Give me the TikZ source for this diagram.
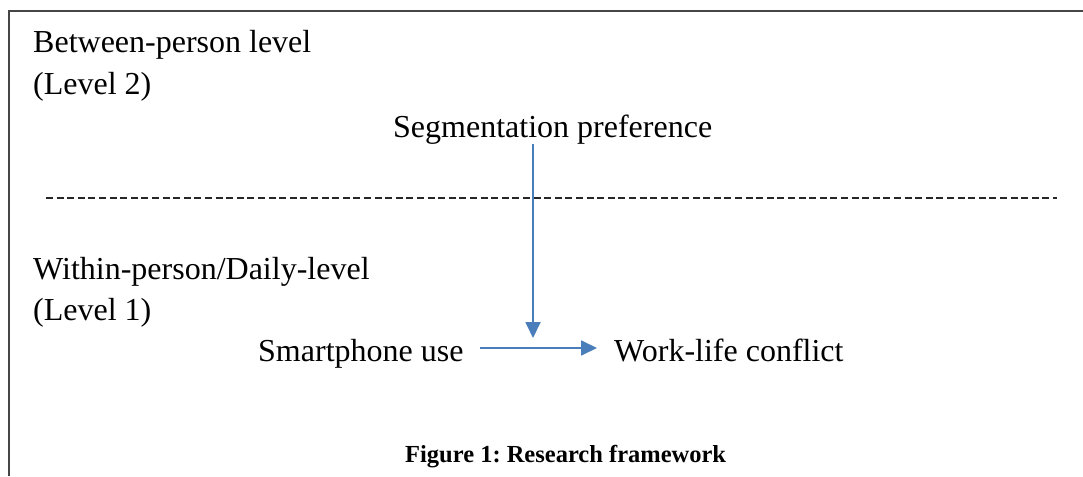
\documentclass[tikz,border=0pt]{standalone}
\usepackage{fontspec}
\setmainfont{Liberation Serif}
\usetikzlibrary{arrows.meta,positioning,calc}
\definecolor{linkblue}{RGB}{74,126,187}
\definecolor{rule}{RGB}{70,70,70}
\tikzset{
  lbl/.style={inner sep=0pt, anchor=base west, font=\fontsize{32}{38}\selectfont},
  figcap/.style={inner sep=0pt, anchor=base west, font=\fontsize{24.5}{29}\selectfont\bfseries},
  frame/.style={draw=rule, line width=2pt},
  levelsep/.style={draw=black!85, line width=2.6pt, dash pattern=on 7pt off 3.6pt},
  flow/.style={-{Triangle[length=16pt,width=15pt]}, linkblue, line width=1.8pt},
}
\frenchspacing
\begin{document}
\begin{tikzpicture}[x=1pt,y=-1pt]
        \useasboundingbox (0,0) rectangle (1083,476);
        \draw[frame] (9,476) -- (9,11) -- (1083,11);
        % level 2
        \node[lbl] (between) at (33,53)  {Between-person level};
        \node[lbl] (lvltwo)  at (33,95)  {(Level 2)};
        \node[lbl] (seg)     at (393,137) {Segmentation preference};
        \draw[levelsep] (46,198) -- (1057,198);
        % level 1
        \node[lbl] (within)  at (33,279) {Within-person/Daily-level};
        \node[lbl] (lvlone)  at (33,320) {(Level 1)};
        \node[lbl] (phone)   at (258,361) {Smartphone use};
        \node[lbl] (conflict) at (614,361) {Work-life conflict};
        \coordinate (mod) at (533,348);
        \draw[flow] ([xshift=16pt]phone.east |- mod) -- ([xshift=-17pt]conflict.west |- mod);
        \draw[flow] (seg.south -| mod) -- ([yshift=10pt]mod);
        \node[figcap] (caption) at (405,462) {Figure 1: Research framework};
      \end{tikzpicture}
\end{document}
